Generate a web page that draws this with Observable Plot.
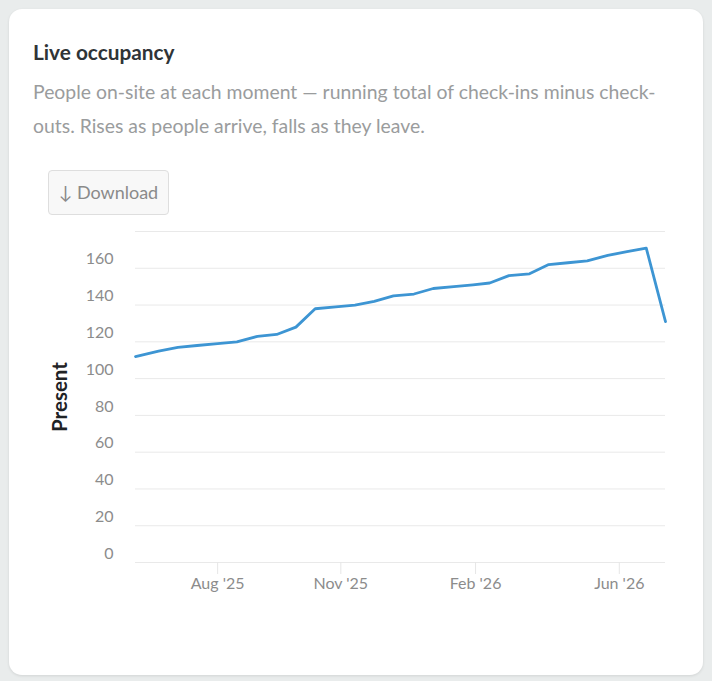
<!DOCTYPE html>
<html>
<head>
<meta charset="utf-8">
<script src="https://cdn.jsdelivr.net/npm/d3@7"></script>
<script src="https://cdn.jsdelivr.net/npm/@observablehq/plot@0.6"></script>
<style>
  html, body { margin: 0; padding: 0; }
  body {
    width: 712px; height: 681px; overflow: hidden;
    background: #e9ecec;
    font-family: Lato, "Noto Sans", sans-serif;
  }
  .card {
    position: absolute; left: 9px; top: 9px;
    width: 694px; height: 666px; box-sizing: border-box;
    background: #fff; border-radius: 13px;
    box-shadow: 0 1px 3px rgba(0,0,0,0.10);
    padding: 31px 24px 0 24px;
  }
  h2 {
    margin: 0; font-size: 20.8px; line-height: 24px; font-weight: 700;
    color: #2f3437;
  }
  .sub {
    margin: 11px 0 0 0; font-size: 19.4px; line-height: 34px;
    color: #9a9c9d; width: 646px;
  }
  .btn {
    display: inline-block; margin: 27px 0 0 15px;
    height: 45px; width: 121px; box-sizing: border-box;
    border: 1px solid #dedede; border-radius: 4px; background: #f8f8f8;
    color: #8a8a8a; font-size: 18px; line-height: 43px; text-align: center;
  }
  #chart { margin-top: 4px; }
  #chart svg { display: block; overflow: visible; }
</style>
</head>
<body>
<div class="card">
  <h2>Live occupancy</h2>
  <div class="sub">People on-site at each moment — running total of check-ins minus check-outs. Rises as people arrive, falls as they leave.</div>
  <div class="btn">↓ Download</div>
  <div id="chart"></div>
</div>
<script>
// Snapshot dates (twice a month) and headcount on site at each one
const dates = [
  "2025-05-29", "2025-06-16", "2025-07-01", "2025-07-16", "2025-08-01", "2025-08-16",
  "2025-09-01", "2025-09-16", "2025-10-01", "2025-10-16", "2025-11-01", "2025-11-16",
  "2025-12-01", "2025-12-16", "2026-01-01", "2026-01-16", "2026-02-01", "2026-02-16",
  "2026-03-01", "2026-03-16", "2026-04-01", "2026-04-16", "2026-05-01", "2026-05-16",
  "2026-06-01", "2026-06-16", "2026-07-01", "2026-07-16"
];
const present = [
  112, 115, 117, 118, 119, 120,
  123, 124, 128, 138, 139, 140,
  142, 145, 146, 149, 150, 151,
  152, 156, 157, 162, 163, 164,
  167, 169, 171, 131
];

// Axis ticks
const xTickDates = ["2025-08-01", "2025-11-05", "2026-02-18", "2026-06-10"];
const yTickValues = [0, 20, 40, 60, 80, 100, 120, 140, 160];
const yGridValues = [0, 20, 40, 60, 80, 100, 120, 140, 160, 180];

const rows = dates.map((d, i) => ({date: new Date(d + "T00:00:00Z"), present: present[i]}));
const xTicks = xTickDates.map(d => new Date(d + "T00:00:00Z"));
const fmt = d3.utcFormat("%b '%y");

const chart = Plot.plot({
  width: 646,
  height: 383,
  marginLeft: 102,
  marginRight: 14,
  marginTop: 12,
  marginBottom: 40,
  style: {fontFamily: "Lato, sans-serif", fontSize: "16px", background: "transparent"},
  x: {type: "utc", domain: [rows[0].date, rows[rows.length - 1].date]},
  y: {domain: [0, 180]},
  marks: [
    Plot.gridY(yGridValues, {stroke: "#e9e9e9", strokeOpacity: 1}),
    Plot.axisY(yTickValues, {tickSize: 0, tickPadding: 22, dy: -9, fill: "#8c8c8c", label: null}),
    Plot.axisX(xTicks, {tickSize: 12, stroke: "#e6e6e6", text: null, label: null}),
    Plot.axisX(xTicks, {tickSize: 0, tickPadding: 15, tickFormat: fmt, fill: "#8c8c8c", label: null}),
    Plot.text(["Present"], {
      text: d => d, frameAnchor: "left", textAnchor: "middle", dx: -75, rotate: -90,
      fontSize: 20.5, fontWeight: 700, fill: "#1f2326"
    }),
    Plot.line(rows, {x: "date", y: "present", stroke: "#3d95d3", strokeWidth: 2.8})
  ]
});
document.getElementById("chart").append(chart);
</script>
</body>
</html>
